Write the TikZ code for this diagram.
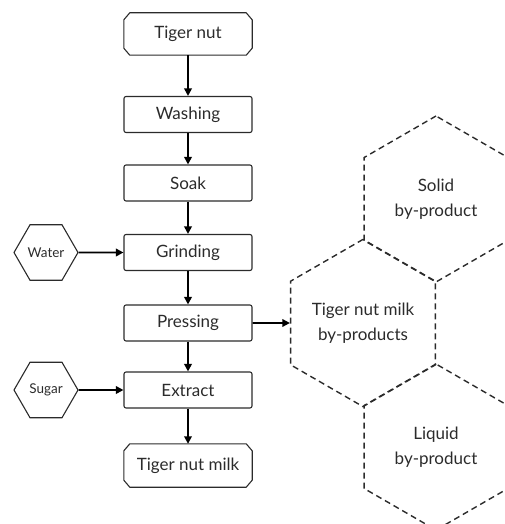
\documentclass[tikz,border=0pt]{standalone}
\usepackage{fontspec}
\setmainfont{Lato}
\usetikzlibrary{arrows.meta,shapes.geometric}
\definecolor{ink}{HTML}{2B2B2B}
\tikzset{
  x=1pt,y=-1pt,
  procbox/.style={draw=ink,line width=1.1pt,rounded corners=2pt,minimum width=128pt,minimum height=36pt,inner sep=0pt,text=ink,font=\fontsize{17}{24}\selectfont},
  termbox/.style={minimum width=128pt,minimum height=42pt,inner sep=0pt,text=ink,font=\fontsize{17}{24}\selectfont},
  inhex/.style={draw=ink,line width=1.1pt,regular polygon,regular polygon sides=6,minimum size=64pt,inner sep=0pt,text=ink,font=\fontsize{13.5}{16}\selectfont},
  bighex/.style={draw=ink,line width=1.4pt,dash pattern=on 6pt off 4pt,regular polygon,regular polygon sides=6,shape border rotate=30,minimum size=166pt,inner sep=0pt,text=ink,align=center,font=\fontsize{17}{25}\selectfont},
  arr/.style={-{Triangle[length=7.5pt,width=7.5pt]},line width=1.8pt,black},
  chamf/.style={draw=ink,line width=1.1pt}
}
\begin{document}
\begin{tikzpicture}
\useasboundingbox (0,0) rectangle (504,524);
\clip (0,0) rectangle (504,524);
\node[termbox] (tn) at (188,34) {Tiger nut};
\node[procbox] (wash) at (188,114.5) {Washing};
\node[procbox] (soak) at (188,183) {Soak};
\node[procbox] (grind) at (188,252.5) {Grinding};
\node[procbox] (press) at (188,323) {Pressing};
\node[procbox] (extr) at (188,390) {Extract};
\node[termbox,minimum height=43pt] (milk) at (188,465.5) {Tiger nut milk};
\node[inhex] (water) at (46,252.5) {Water};
\node[inhex] (sugar) at (46,390) {Sugar};
\node[bighex] (solid) at (436,199) {Solid\\by-product};
\node[bighex] (mid) at (363,323) {Tiger nut milk\\by-products};
\node[bighex] (liq) at (436,447) {Liquid\\by-product};
\foreach \n in {tn,milk}{
  \draw[chamf] ([xshift=6pt]\n.north west) -- ([xshift=-6pt]\n.north east) -- ([yshift=-7pt]\n.north east) -- ([yshift=7pt]\n.south east) -- ([xshift=-6pt]\n.south east) -- ([xshift=6pt]\n.south west) -- ([yshift=7pt]\n.south west) -- ([yshift=-7pt]\n.north west) -- cycle;
}
\draw[arr] (tn) -- (wash);
\draw[arr] (wash) -- (soak);
\draw[arr] (soak) -- (grind);
\draw[arr] (grind) -- (press);
\draw[arr] (press) -- (extr);
\draw[arr] (extr) -- (milk);
\draw[arr] (water) -- (grind);
\draw[arr] (sugar) -- (extr);
\draw[arr] (press) -- (mid);
\end{tikzpicture}
\end{document}
